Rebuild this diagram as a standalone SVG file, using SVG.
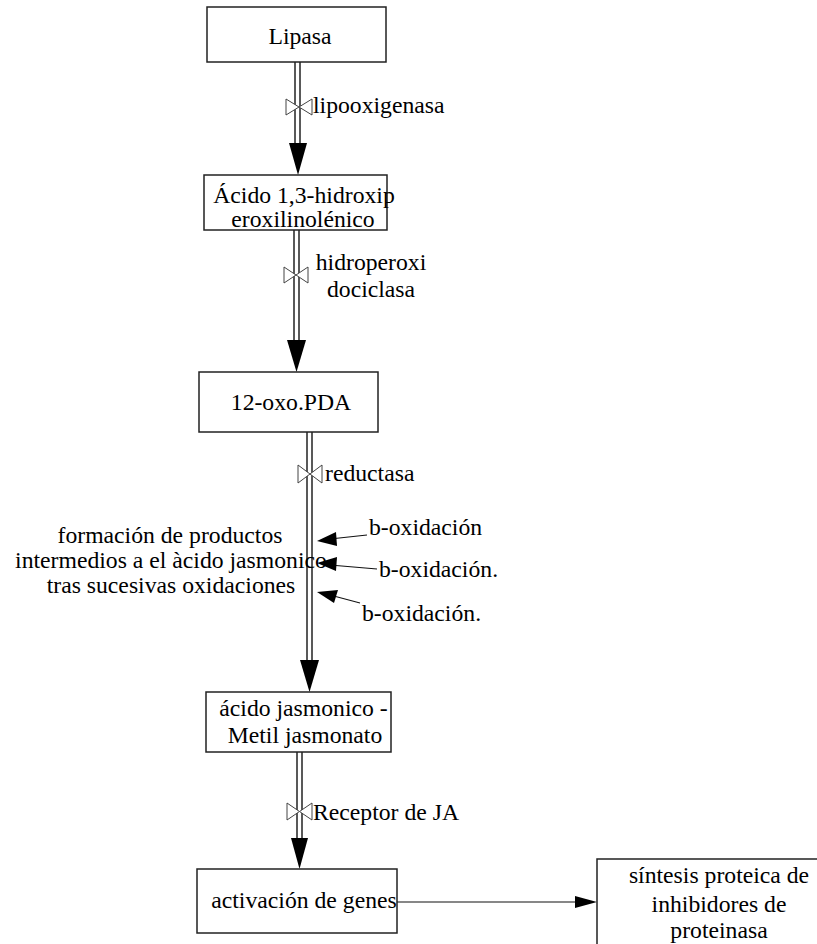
<svg xmlns="http://www.w3.org/2000/svg" width="817" height="944" viewBox="0 0 817 944">
<style>
.box{fill:#fff;stroke:#222;stroke-width:1.5}
.t{font-family:"Liberation Serif","Times New Roman","DejaVu Serif",serif;font-size:23.7px;fill:#000}
.m{text-anchor:middle}
.dl{stroke:#222;stroke-width:1.5;fill:none}
.head{fill:#000}
.bow{fill:#fff;stroke:#444;stroke-width:1}
.thin{stroke:#111;stroke-width:1.2;fill:none}
</style>
<rect width="817" height="944" fill="#fff"/>
<g id="connectors">
  <line class="dl" x1="295" y1="62" x2="295" y2="145"/>
  <line class="dl" x1="300" y1="62" x2="300" y2="145"/>
  <polygon class="head" points="289,143 307,143 298,175"/>
  <polygon class="bow" points="286,99 299,107 286,115"/>
  <polygon class="bow" points="312,99 299,107 312,115"/>
  <text class="t" x="313" y="113">lipooxigenasa</text>
  <line class="dl" x1="294" y1="230" x2="294" y2="342"/>
  <line class="dl" x1="299" y1="230" x2="299" y2="342"/>
  <polygon class="head" points="287,340 306,340 296.5,372"/>
  <polygon class="bow" points="284,267 296,275 284,283"/>
  <polygon class="bow" points="308,267 296,275 308,283"/>
  <text class="t m" x="371" y="270">hidroperoxi</text>
  <text class="t m" x="371" y="297">dociclasa</text>
  <line class="dl" x1="307" y1="432" x2="307" y2="662"/>
  <line class="dl" x1="312" y1="432" x2="312" y2="662"/>
  <polygon class="head" points="300,660 319,660 309.5,692"/>
  <polygon class="bow" points="298,465 310,474 298,483"/>
  <polygon class="bow" points="322,465 310,474 322,483"/>
  <text class="t" x="325" y="481">reductasa</text>
  <line class="thin" x1="367" y1="535" x2="330" y2="539"/>
  <polygon class="head" points="317,541 336,532 337,546"/>
  <line class="thin" x1="377" y1="569" x2="330" y2="565"/>
  <polygon class="head" points="317,563 337,557 336,571"/>
  <line class="thin" x1="360" y1="603" x2="330" y2="595"/>
  <polygon class="head" points="317,592 338,590 334,603"/>
  <line class="dl" x1="297" y1="752" x2="297" y2="840"/>
  <line class="dl" x1="302" y1="752" x2="302" y2="840"/>
  <polygon class="head" points="291,838 308,838 299.5,869"/>
  <polygon class="bow" points="287,803 299.5,811.5 287,820"/>
  <polygon class="bow" points="312,803 299.5,811.5 312,820"/>
  <text class="t" x="313" y="820">Receptor de JA</text>
  <line class="thin" x1="397" y1="902" x2="578" y2="902"/>
  <polygon class="head" points="575,896 597,902 575,908"/>
</g>
<g id="lipasa">
  <rect class="box" x="207" y="7" width="179" height="55"/>
  <text class="t m" x="300" y="44">Lipasa</text>
</g>
<g id="acido">
  <rect class="box" x="204" y="175" width="183" height="55"/>
  <text class="t m" x="304" y="203">Ácido 1,3-hidroxip</text>
  <text class="t m" x="303" y="227">eroxilinolénico</text>
</g>
<g id="oxo">
  <rect class="box" x="199" y="372" width="179" height="60"/>
  <text class="t m" x="291" y="410">12-oxo.PDA</text>
</g>
<g id="formacion">
  <text class="t m" x="170" y="543">formación de productos</text>
  <text class="t m" x="171" y="568">intermedios a el àcido jasmonico</text>
  <text class="t m" x="171" y="593">tras sucesivas oxidaciones</text>
</g>
<g id="box1">
  <text class="t" x="369" y="535">b-oxidación</text>
</g>
<g id="box2">
  <text class="t" x="379" y="577">b-oxidación.</text>
</g>
<g id="box3">
  <text class="t" x="362" y="621">b-oxidación.</text>
</g>
<g id="jasmonico">
  <rect class="box" x="206" y="692" width="185" height="60"/>
  <text class="t m" x="303.5" y="716">ácido jasmonico -</text>
  <text class="t m" x="305" y="743">Metil jasmonato</text>
</g>
<g id="activacion">
  <rect class="box" x="197" y="869" width="200" height="64"/>
  <text class="t m" x="304" y="908">activación de genes</text>
</g>
<g id="sintesis">
  <rect class="box" x="597" y="859" width="244" height="100"/>
  <text class="t m" x="719" y="883">síntesis proteica de</text>
  <text class="t m" x="719" y="912">inhibidores de</text>
  <text class="t m" x="719" y="938">proteinasa</text>
</g>
</svg>
